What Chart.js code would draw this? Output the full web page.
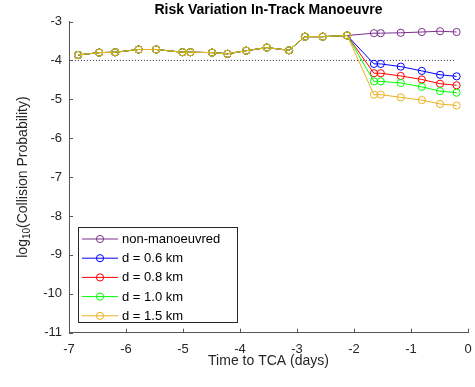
<!DOCTYPE html>
<html lang="en">
<head>
    <meta charset="UTF-8">
    <title>Risk Variation In-Track Manoeuvre</title>
    <script src="https://cdn.jsdelivr.net/npm/chart.js@4.4.0/dist/chart.umd.min.js"></script>
    <style>
        html, body { margin: 0; padding: 0; background: #fff; }
        #wrap { width: 475px; height: 387px; }
    </style>
</head>
<body>
    <div id="wrap"><canvas id="riskChart" width="475" height="387"></canvas></div>
    <script>
        // days before closest approach (shared by every series)
        var days = [-6.84, -6.47, -6.19, -5.78, -5.47, -5.01, -4.87, -4.49, -4.22, -3.89, -3.53,
                    -3.14, -2.86, -2.55, -2.12, -1.65, -1.53, -1.18, -0.81, -0.49, -0.20];
        // log10 of collision probability before the manoeuvre decision
        var commonRisk = [-3.86, -3.80, -3.79, -3.72, -3.72, -3.79, -3.79, -3.80, -3.83, -3.75, -3.67,
                          -3.74, -3.39, -3.39, -3.36];
        // after the manoeuvre point
        var riskNone = [-3.30, -3.30, -3.29, -3.27, -3.25, -3.27];
        var risk06 = [-4.09, -4.09, -4.16, -4.27, -4.37, -4.41];
        var risk08 = [-4.33, -4.33, -4.40, -4.49, -4.60, -4.64];
        var risk10 = [-4.54, -4.54, -4.58, -4.68, -4.79, -4.83];
        var risk15 = [-4.88, -4.88, -4.95, -5.02, -5.12, -5.16];
        var threshold = -4;
        var thresholdSpan = [-6.95, -0.22];

        var xTicks = [-7, -6, -5, -4, -3, -2, -1, 0];
        var yTicks = [-11, -10, -9, -8, -7, -6, -5, -4, -3];

        var seriesNames = ['non-manoeuvred', 'd = 0.6 km', 'd = 0.8 km', 'd = 1.0 km', 'd = 1.5 km'];
        var seriesData = [riskNone, risk06, risk08, risk10, risk15];
        var seriesColors = ['#7E2F8E', '#0000FF', '#FF0000', '#00FF00', '#EDB120'];

        var FONT = '"Liberation Sans", Arial, Helvetica, sans-serif';
        var AXIS = '#555555';

        function toPoints(tail) {
            var ys = commonRisk.concat(tail);
            return days.map(function (d, i) { return { x: d, y: ys[i] }; });
        }

        var datasets = seriesNames.map(function (name, i) {
            return {
                label: name,
                data: toPoints(seriesData[i]),
                borderColor: seriesColors[i],
                backgroundColor: 'rgba(0,0,0,0)',
                borderWidth: 1,
                pointRadius: 3.6,
                pointBorderWidth: 1,
                pointBackgroundColor: 'rgba(0,0,0,0)',
                pointBorderColor: seriesColors[i],
                tension: 0,
                order: seriesNames.length - 1 - i
            };
        });
        datasets.push({
            label: 'threshold',
            data: [{ x: thresholdSpan[0], y: threshold }, { x: thresholdSpan[1], y: threshold }],
            borderColor: '#222',
            borderWidth: 1,
            borderDash: [1, 2],
            pointRadius: 0,
            order: 20
        });

        // title, axis titles, inward tick marks and the legend box
        var decorations = {
            id: 'decorations',
            afterDraw: function (chart) {
                var ctx = chart.ctx, a = chart.chartArea;
                var xs = chart.scales.x, ys = chart.scales.y;
                ctx.save();
                ctx.strokeStyle = AXIS;
                ctx.lineWidth = 1;
                ctx.beginPath();
                xTicks.forEach(function (t) {
                    var px = Math.round(xs.getPixelForValue(t)) + 0.5;
                    ctx.moveTo(px, a.bottom);
                    ctx.lineTo(px, a.bottom - 4);
                });
                yTicks.forEach(function (t) {
                    var py = Math.round(ys.getPixelForValue(t)) + 0.5;
                    ctx.moveTo(a.left, py);
                    ctx.lineTo(a.left + 4, py);
                });
                ctx.stroke();

                var cx = (a.left + a.right) / 2;
                ctx.fillStyle = '#000';
                ctx.textAlign = 'center';
                ctx.textBaseline = 'middle';
                ctx.font = 'bold 14px ' + FONT;
                ctx.fillText('Risk Variation In-Track Manoeuvre', cx, 10);

                ctx.fillStyle = '#262626';
                ctx.font = '14px ' + FONT;
                ctx.fillText('Time to TCA (days)', cx, 361);

                // y title with subscript 10
                var cy = (a.top + a.bottom) / 2;
                ctx.translate(23, cy);
                ctx.rotate(-Math.PI / 2);
                var p1 = 'log', p2 = '10', p3 = '(Collision Probability)';
                ctx.font = '14px ' + FONT;
                var w1 = ctx.measureText(p1).width, w3 = ctx.measureText(p3).width;
                ctx.font = '10px ' + FONT;
                var w2 = ctx.measureText(p2).width;
                var x0 = -(w1 + w2 + w3) / 2;
                ctx.textAlign = 'left';
                ctx.font = '14px ' + FONT;
                ctx.fillText(p1, x0, 0);
                ctx.font = '10px ' + FONT;
                ctx.fillText(p2, x0 + w1, 4);
                ctx.font = '14px ' + FONT;
                ctx.fillText(p3, x0 + w1 + w2, 0);
                ctx.restore();

                // legend
                ctx.save();
                var lx = 78.5, ly = 227.5, lw = 159, lh = 95;
                ctx.fillStyle = '#fff';
                ctx.fillRect(lx, ly, lw, lh);
                ctx.strokeStyle = '#262626';
                ctx.lineWidth = 1;
                ctx.strokeRect(lx, ly, lw, lh);
                ctx.font = '13px ' + FONT;
                ctx.textAlign = 'left';
                ctx.textBaseline = 'middle';
                seriesNames.forEach(function (name, i) {
                    var y = 239 + i * 19.2;
                    ctx.strokeStyle = seriesColors[i];
                    ctx.beginPath();
                    ctx.moveTo(82, y);
                    ctx.lineTo(118, y);
                    ctx.stroke();
                    ctx.beginPath();
                    ctx.arc(100, y, 3.6, 0, Math.PI * 2);
                    ctx.stroke();
                    ctx.fillStyle = '#000';
                    ctx.fillText(name, 122, y + 0.5);
                });
                ctx.restore();
            }
        };

        new Chart(document.getElementById('riskChart'), {
            type: 'line',
            data: { datasets: datasets },
            options: {
                responsive: false,
                animation: false,
                layout: { padding: { left: 0, right: 7, top: 21.5, bottom: 0 } },
                plugins: {
                    legend: { display: false },
                    title: { display: false },
                    tooltip: { enabled: false }
                },
                scales: {
                    x: {
                        type: 'linear',
                        min: -7, max: 0,
                        afterBuildTicks: function (s) { s.ticks = xTicks.map(function (v) { return { value: v }; }); },
                        afterFit: function (s) { s.height = 54.3; s.paddingLeft = 0; s.paddingRight = 0; },
                        grid: { drawOnChartArea: false, drawTicks: false },
                        border: { display: true, color: AXIS, width: 1 },
                        ticks: { color: '#262626', padding: 9, font: { family: FONT, size: 13 }, maxRotation: 0 }
                    },
                    y: {
                        type: 'linear',
                        min: -11, max: -3,
                        afterBuildTicks: function (s) { s.ticks = yTicks.map(function (v) { return { value: v }; }); },
                        afterFit: function (s) { s.width = 69; },
                        grid: { drawOnChartArea: false, drawTicks: false },
                        border: { display: true, color: AXIS, width: 1 },
                        ticks: { color: '#262626', padding: 7, font: { family: FONT, size: 13 } }
                    }
                }
            },
            plugins: [decorations]
        });
    </script>
</body>
</html>
